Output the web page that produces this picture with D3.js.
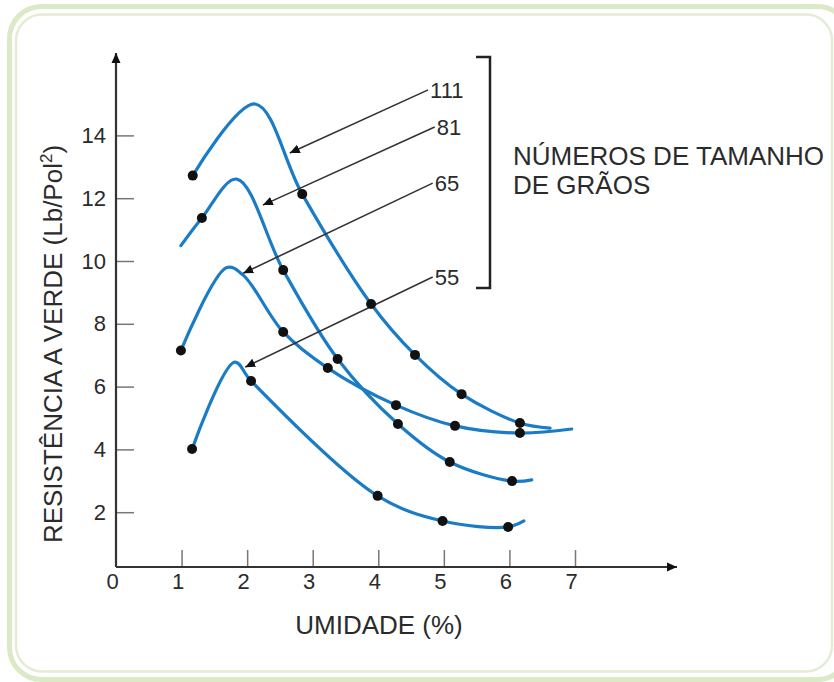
<!DOCTYPE html>
<meta charset="utf-8">
<html>
<head>
<script src="https://d3js.org/d3.v7.min.js"></script>
<style>
  body { margin: 0; background: #fff; }
  svg { display: block; font-family: "Liberation Sans", Arial, sans-serif; }
</style>
</head>
<body>
<div id="chart"></div>
<script>
const grainSizes = ["111", "81", "65", "55"];
const curve111 = [[1.17,12.72,1],[2.12,15.0,0],[2.84,12.13,1],[3.89,8.63,1],[4.56,7.01,1],[5.27,5.76,1],[6.16,4.84,1],[6.62,4.68,0]];
const curve81  = [[0.99,10.49,0],[1.31,11.37,1],[1.84,12.61,0],[2.55,9.71,1],[3.38,6.88,1],[4.30,4.81,1],[5.09,3.60,1],[6.04,2.99,1],[6.34,3.03,0]];
const curve65  = [[0.99,7.15,1],[1.69,9.79,0],[1.94,9.55,0],[2.55,7.74,1],[3.23,6.59,1],[4.27,5.41,1],[5.17,4.75,1],[6.16,4.52,1],[6.95,4.65,0]];
const curve55  = [[1.16,4.01,1],[1.81,6.78,0],[2.06,6.18,1],[3.99,2.52,1],[4.98,1.72,1],[5.98,1.53,1],[6.22,1.72,0]];
const curves = [curve111, curve81, curve65, curve55];

// arrows from each label to its curve: [start x, start y, tip x, tip y]
const arrows = [[4.76,15.45,2.65,13.44],[4.86,14.27,2.24,11.78],[4.83,12.48,1.94,9.61],[4.83,9.49,1.97,6.62]];

const xTicks = [0, 1, 2, 3, 4, 5, 6, 7];
const yTicks = [2, 4, 6, 8, 10, 12, 14];

const W = 834, H = 682;
const svg = d3.select("#chart").append("svg")
    .attr("width", W).attr("height", H);

// green double frame
svg.append("rect")
    .attr("x", 9.5).attr("y", 6.5).attr("width", 840).attr("height", 673)
    .attr("rx", 32).attr("fill", "none")
    .attr("stroke", "#dbe9c6").attr("stroke-width", 5);
svg.append("rect")
    .attr("x", 16).attr("y", 14.5).attr("width", 816).attr("height", 657)
    .attr("rx", 26).attr("fill", "none")
    .attr("stroke", "#e2edd3").attr("stroke-width", 2.5);

const x = d3.scaleLinear().domain([0, 7]).range([116, 575]);
const y = d3.scaleLinear().domain([0, 14]).range([575, 135.4]);
const axisY = 567;

svg.append("defs").append("marker")
    .attr("id", "head")
    .attr("viewBox", "0 0 10 10")
    .attr("refX", 10).attr("refY", 5)
    .attr("markerWidth", 10).attr("markerHeight", 10)
    .attr("markerUnits", "userSpaceOnUse")
    .attr("orient", "auto")
  .append("path")
    .attr("d", "M0,0.5 L10,5 L0,9.5 Z")
    .attr("fill", "#111");

// x axis
const gx = svg.append("g")
    .attr("transform", `translate(0,${axisY})`)
    .call(d3.axisBottom(x).tickValues(xTicks).tickFormat(d3.format("d"))
        .tickSizeInner(-17).tickSizeOuter(0).tickPadding(6));
gx.select(".domain").remove();
gx.selectAll(".tick line").attr("stroke", "#777").attr("stroke-width", 1.5);
gx.selectAll(".tick text")
    .attr("dx", -4)
    .attr("font-size", 22).attr("fill", "#2b2b2b")
    .style("font-family", "Liberation Sans, Arial, sans-serif");
gx.select(".tick line").remove();

// y axis
const gy = svg.append("g")
    .attr("transform", `translate(${x(0)},0)`)
    .call(d3.axisLeft(y).tickValues(yTicks).tickSizeInner(-18).tickSizeOuter(0).tickPadding(10));
gy.select(".domain").remove();
gy.selectAll(".tick line").attr("stroke", "#777").attr("stroke-width", 1.5);
gy.selectAll(".tick text")
    .attr("font-size", 22).attr("fill", "#2b2b2b")
    .style("font-family", "Liberation Sans, Arial, sans-serif");

svg.append("line")
    .attr("x1", x(0)).attr("y1", axisY).attr("x2", 677).attr("y2", axisY)
    .attr("stroke", "#333").attr("stroke-width", 2.2)
    .attr("marker-end", "url(#head)");
svg.append("line")
    .attr("x1", x(0)).attr("y1", axisY).attr("x2", x(0)).attr("y2", 53)
    .attr("stroke", "#333").attr("stroke-width", 2.2)
    .attr("marker-end", "url(#head)");

// axis titles
svg.append("text")
    .attr("x", 379).attr("y", 634)
    .attr("text-anchor", "middle")
    .attr("font-size", 26).attr("fill", "#2b2b2b")
    .text("UMIDADE (%)");

const yt = svg.append("text")
    .attr("transform", "translate(62,344) rotate(-90)")
    .attr("text-anchor", "middle")
    .attr("font-size", 26).attr("fill", "#2b2b2b");
yt.append("tspan").text("RESISTÊNCIA A VERDE (Lb/Pol");
yt.append("tspan").attr("font-size", 17).attr("dy", -10).text("2");
yt.append("tspan").attr("dy", 10).text(")");

// curves
const line = d3.line()
    .x(d => x(d[0]))
    .y(d => y(d[1]))
    .curve(d3.curveCatmullRom.alpha(0.5));

svg.selectAll("path.curve")
    .data(curves)
    .join("path")
    .attr("class", "curve")
    .attr("d", line)
    .attr("fill", "none")
    .attr("stroke", "#1a7cc6")
    .attr("stroke-width", 3.2)
    .attr("stroke-linecap", "round");

// arrows + labels
arrows.forEach((a, i) => {
    svg.append("line")
        .attr("x1", x(a[0])).attr("y1", y(a[1]))
        .attr("x2", x(a[2])).attr("y2", y(a[3]))
        .attr("stroke", "#333").attr("stroke-width", 1.6)
        .attr("marker-end", "url(#head)");
    svg.append("text")
        .attr("x", x(a[0]) + 2).attr("y", y(a[1]) + 8)
        .attr("font-size", 22).attr("fill", "#2b2b2b")
        .text(grainSizes[i]);
});

// dots
svg.selectAll("circle")
    .data(curves.flat().filter(d => d[2] === 1))
    .join("circle")
    .attr("cx", d => x(d[0]))
    .attr("cy", d => y(d[1]))
    .attr("r", 5)
    .attr("fill", "#111");

// bracket + legend text
svg.append("path")
    .attr("d", "M476,57 H490 V288 H476")
    .attr("fill", "none").attr("stroke", "#222").attr("stroke-width", 2.5);

svg.append("text")
    .attr("x", 513).attr("y", 165)
    .attr("font-size", 26).attr("fill", "#2b2b2b")
    .text("NÚMEROS DE TAMANHO");
svg.append("text")
    .attr("x", 513).attr("y", 194)
    .attr("font-size", 26).attr("fill", "#2b2b2b")
    .text("DE GRÃOS");
</script>
</body>
</html>
